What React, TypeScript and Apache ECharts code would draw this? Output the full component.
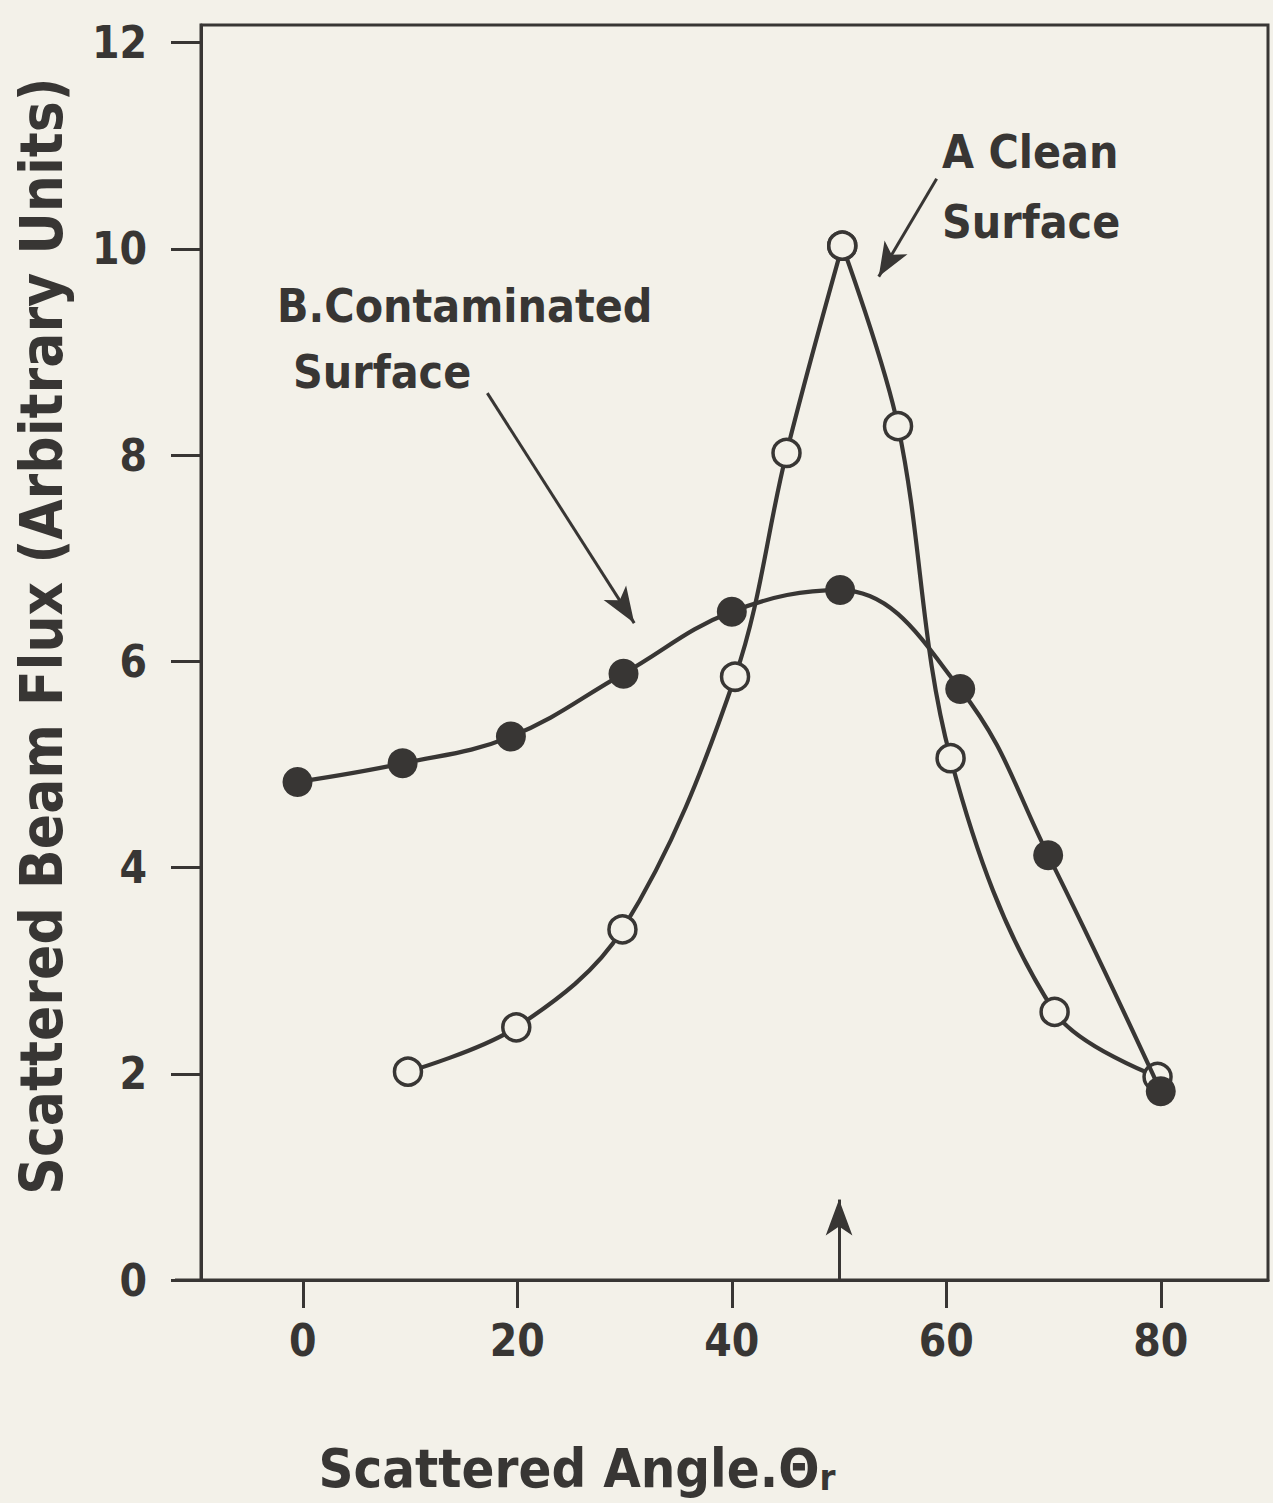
import React, { useEffect, useRef } from "react";
import * as echarts from "echarts";

// Curve A: clean surface (open circles)
const angleA = [9.8, 19.9, 29.8, 40.3, 45.1, 50.3, 55.5, 60.4, 70.1, 79.7];
const fluxA = [2.02, 2.45, 3.4, 5.85, 8.02, 10.03, 8.28, 5.06, 2.6, 1.97];

// Curve B: contaminated surface (filled circles)
const angleB = [-0.5, 9.3, 19.4, 29.9, 40.0, 50.1, 61.3, 69.5, 80.0];
const fluxB = [4.83, 5.01, 5.27, 5.88, 6.48, 6.69, 5.73, 4.12, 1.83];

// Axis tick labels
const xTicks = [0, 20, 40, 60, 80];
const yTicks = [0, 2, 4, 6, 8, 10, 12];

const INK = "#383634";
const PAPER = "#f3f1e9";
const FONT = "'DejaVu Sans Condensed', 'DejaVu Sans', sans-serif";

export default function App() {
  const ref = useRef<HTMLDivElement>(null);

  useEffect(() => {
    if (!ref.current) return;
    const chart = echarts.init(ref.current, null, { renderer: "svg" });

    const ptsA = angleA.map((x, i) => [x, fluxA[i]]);
    const ptsB = angleB.map((x, i) => [x, fluxB[i]]);
    const peak = fluxA.indexOf(Math.max(...fluxA));
    const riseA = ptsA.slice(0, peak + 1);
    const fallA = ptsA.slice(peak);

    const openMarker = {
      symbol: "circle",
      symbolSize: 27,
      itemStyle: { color: PAPER, borderColor: INK, borderWidth: 3.5 },
      lineStyle: { color: INK, width: 4.2 },
    };

    const arrowLine = (from: number[], to: number[], head: number[]) => [
      { coord: from, symbol: "none" },
      { coord: to, symbol: "arrow", symbolSize: head },
    ];

    const label = (text: string, x: number, y: number) => ({
      type: "text",
      x,
      y,
      style: {
        text,
        fill: INK,
        fontSize: 46,
        fontWeight: "bold",
        fontFamily: FONT,
        align: "left",
        verticalAlign: "middle",
      },
    });

    chart.setOption({
      animation: false,
      backgroundColor: PAPER,
      grid: {
        left: 201,
        right: 5,
        top: 25,
        bottom: 223,
        show: true,
        borderColor: INK,
        borderWidth: 3,
        containLabel: false,
        outerBoundsMode: "none",
      },
      xAxis: {
        type: "value",
        min: -9.5,
        max: 90,
        axisLine: { show: true, onZero: false, lineStyle: { color: INK, width: 3 } },
        axisTick: {
          show: true,
          length: 28,
          customValues: xTicks,
          lineStyle: { color: INK, width: 3 },
        },
        axisLabel: {
          customValues: xTicks,
          margin: 38,
          color: INK,
          fontSize: 44,
          fontWeight: "bold",
          fontFamily: FONT,
        },
        splitLine: { show: false },
      },
      yAxis: {
        type: "value",
        min: 0,
        max: 12.17,
        axisLine: { show: true, onZero: false, lineStyle: { color: INK, width: 3 } },
        axisTick: {
          show: true,
          length: 30,
          customValues: yTicks,
          lineStyle: { color: INK, width: 3 },
        },
        axisLabel: {
          customValues: yTicks,
          margin: 54,
          color: INK,
          fontSize: 44,
          fontWeight: "bold",
          fontFamily: FONT,
          verticalAlign: "middle",
        },
        splitLine: { show: false },
      },
      series: [
        {
          name: "A Clean Surface",
          type: "line",
          data: riseA,
          smooth: 0.35,
          ...openMarker,
          z: 3,
        },
        {
          name: "A Clean Surface",
          type: "line",
          data: fallA,
          smooth: 0.35,
          ...openMarker,
          z: 3,
        },
        {
          name: "B. Contaminated Surface",
          type: "line",
          data: ptsB,
          smooth: 0.4,
          symbol: "circle",
          symbolSize: 30,
          itemStyle: { color: INK },
          lineStyle: { color: INK, width: 4.2 },
          z: 4,
        },
        {
          type: "line",
          data: [],
          silent: true,
          markLine: {
            silent: true,
            animation: false,
            label: { show: false },
            lineStyle: { color: INK, width: 3, type: "solid" },
            data: [
              arrowLine([59.1, 10.68], [53.7, 9.73], [20, 34]),
              arrowLine([17.2, 8.6], [30.9, 6.37], [20, 36]),
              arrowLine([50, 0], [50, 0.78], [20, 36]),
            ],
          },
        },
      ],
      graphic: [
        {
          type: "line",
          shape: { x1: 175, y1: 1280, x2: 201, y2: 1280 },
          style: { stroke: INK, lineWidth: 3 },
        },
        {
          type: "text",
          x: 42,
          y: 636,
          rotation: Math.PI / 2,
          style: {
            text: "Scattered Beam Flux (Arbitrary Units)",
            fill: INK,
            fontSize: 58,
            fontWeight: "bold",
            fontFamily: FONT,
            align: "center",
            verticalAlign: "middle",
          },
        },
        {
          type: "text",
          x: 577,
          y: 1468,
          style: {
            text: "{m|Scattered Angle.Θ}{s|r}",
            fill: INK,
            align: "center",
            verticalAlign: "middle",
            rich: {
              m: {
                fontSize: 54,
                fontWeight: "bold",
                fontFamily: FONT,
                fill: INK,
                verticalAlign: "bottom",
              },
              s: {
                fontSize: 36,
                fontWeight: "bold",
                fontFamily: FONT,
                fill: INK,
                verticalAlign: "bottom",
              },
            },
          },
        },
        label("A Clean", 942, 152),
        label("Surface", 942, 222),
        label("B.Contaminated", 277, 306),
        label("Surface", 293, 372),
      ],
    });

    return () => chart.dispose();
  }, []);

  return (
    <div
      ref={ref}
      style={{
        position: "fixed",
        left: 0,
        top: 0,
        width: 1273,
        height: 1503,
        background: PAPER,
      }}
    />
  );
}
